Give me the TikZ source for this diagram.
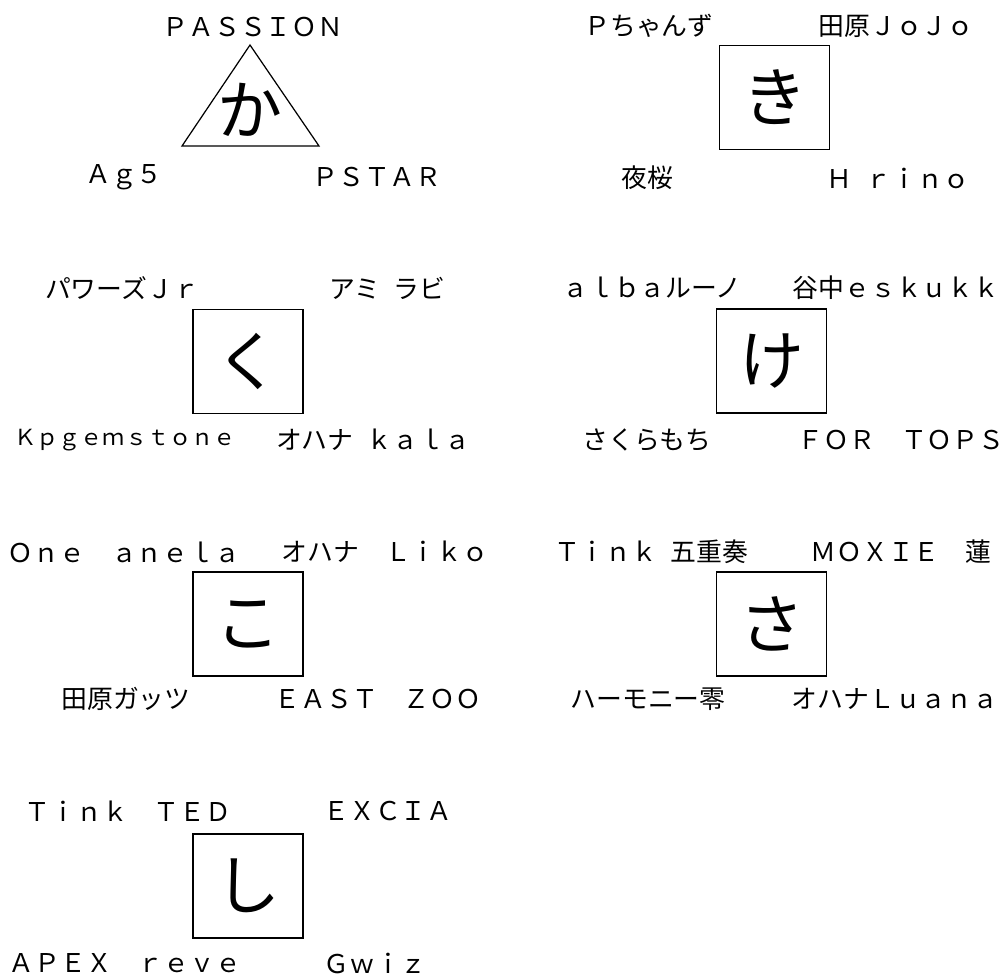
\documentclass[tikz,border=0pt]{standalone}
\usepackage{fontspec}
\setmainfont{Noto Sans CJK JP}
\usepackage{tikz}
\tikzset{myname/.style={
  font=\fontsize{14.7}{16}\selectfont,
  inner sep=0pt,
  text = black,
  }
}
\tikzset{mynameS/.style={
  font=\fontsize{12.6}{14}\selectfont,
  inner sep=0pt,
  text = black,
  }
}
\tikzset{mybox/.style={
  shape=rectangle,
  draw=black,
  line width=0.7pt,
  minimum width=2.2cm,
  minimum height=2.08cm,
  font=\fontsize{37}{39}\selectfont,
  }
}
\tikzset{mychar/.style={
  font=\fontsize{37}{39}\selectfont,
  inner sep=0pt,
  }
}
\newcommand{\hsp}{\hspace{0.5em}}

\begin{document}
\begin{tikzpicture}[]
      \useasboundingbox (0,0) rectangle (20.16,-19.48);

      \coordinate (t1) at (5.00,-0.90);
      \coordinate (t2) at (3.64,-2.92);
      \coordinate (t3) at (6.38,-2.92);
      \draw [line width=0.7pt] (t1) -- (t2) -- (t3) -- cycle;
      \node [mychar] (ka) at (5.00,-2.20) {か};
      \node [myname] (ka1) at (5.06,-0.54) {ＰＡＳＳＩＯＮ};
      \node [myname] (ka2) at (2.48,-3.54) {Ａｇ５};
      \node [myname] (ka3) at (7.54,-3.54) {ＰＳＴＡＲ};

      \node [mybox] (ki) at (15.49,-1.95) {き};
      \node [myname] (ki1) at (12.98,-0.52) {Ｐちゃんず};
      \node [myname] (ki2) at (17.92,-0.52) {田原ＪｏＪｏ};
      \node [myname] (ki3) at (12.94,-3.56) {夜桜};
      \node [myname] (ki4) at (17.96,-3.56) {Ｈ\hsp ｒｉｎｏ};

      \node [mybox] (ku) at (4.96,-7.23) {く};
      \node [myname] (ku1) at (2.44,-5.76) {パワーズＪｒ};
      \node [myname] (ku2) at (7.74,-5.76) {アミ\hsp ラビ};
      \node [mynameS] (ku3) at (2.50,-8.80) {Ｋｐｇｅｍｓｔｏｎｅ};
      \node [myname] (ku4) at (7.46,-8.80) {オハナ\hsp ｋａｌａ};

      \node [mybox] (ke) at (15.43,-7.22) {け};
      \node [myname] (ke1) at (13.04,-5.76) {ａｌｂａルーノ};
      \node [myname] (ke2) at (17.92,-5.76) {谷中ｅｓｋｕｋｋ};
      \node [myname] (ke3) at (12.94,-8.80) {さくらもち};
      \node [myname] (ke4) at (18.02,-8.80) {ＦＯＲ　ＴＯＰＳ};

      \node [mybox] (ko) at (4.96,-12.48) {こ};
      \node [myname] (ko1) at (2.48,-11.04) {Ｏｎｅ　ａｎｅｌａ};
      \node [myname] (ko2) at (7.70,-11.04) {オハナ　Ｌｉｋｏ};
      \node [myname] (ko3) at (2.52,-13.98) {田原ガッツ};
      \node [myname] (ko4) at (7.56,-13.98) {ＥＡＳＴ　ＺＯＯ};

      \node [mybox] (sa) at (15.43,-12.48) {さ};
      \node [myname] (sa1) at (13.02,-11.04) {Ｔｉｎｋ\hsp 五重奏};
      \node [myname] (sa2) at (18.02,-11.04) {ＭＯＸＩＥ　蓮};
      \node [myname] (sa3) at (12.96,-13.98) {ハーモニー零};
      \node [myname] (sa4) at (17.90,-13.98) {オハナＬｕａｎａ};

      \node [mybox] (si) at (4.96,-17.72) {し};
      \node [myname] (si1) at (2.56,-16.22) {Ｔｉｎｋ　ＴＥＤ};
      \node [myname] (si2) at (7.76,-16.22) {ＥＸＣＩＡ};
      \node [myname] (si3) at (2.50,-19.26) {ＡＰＥＸ　ｒｅｖｅ};
      \node [myname] (si4) at (7.50,-19.26) {Ｇｗｉｚ};
\end{tikzpicture}
\end{document}
